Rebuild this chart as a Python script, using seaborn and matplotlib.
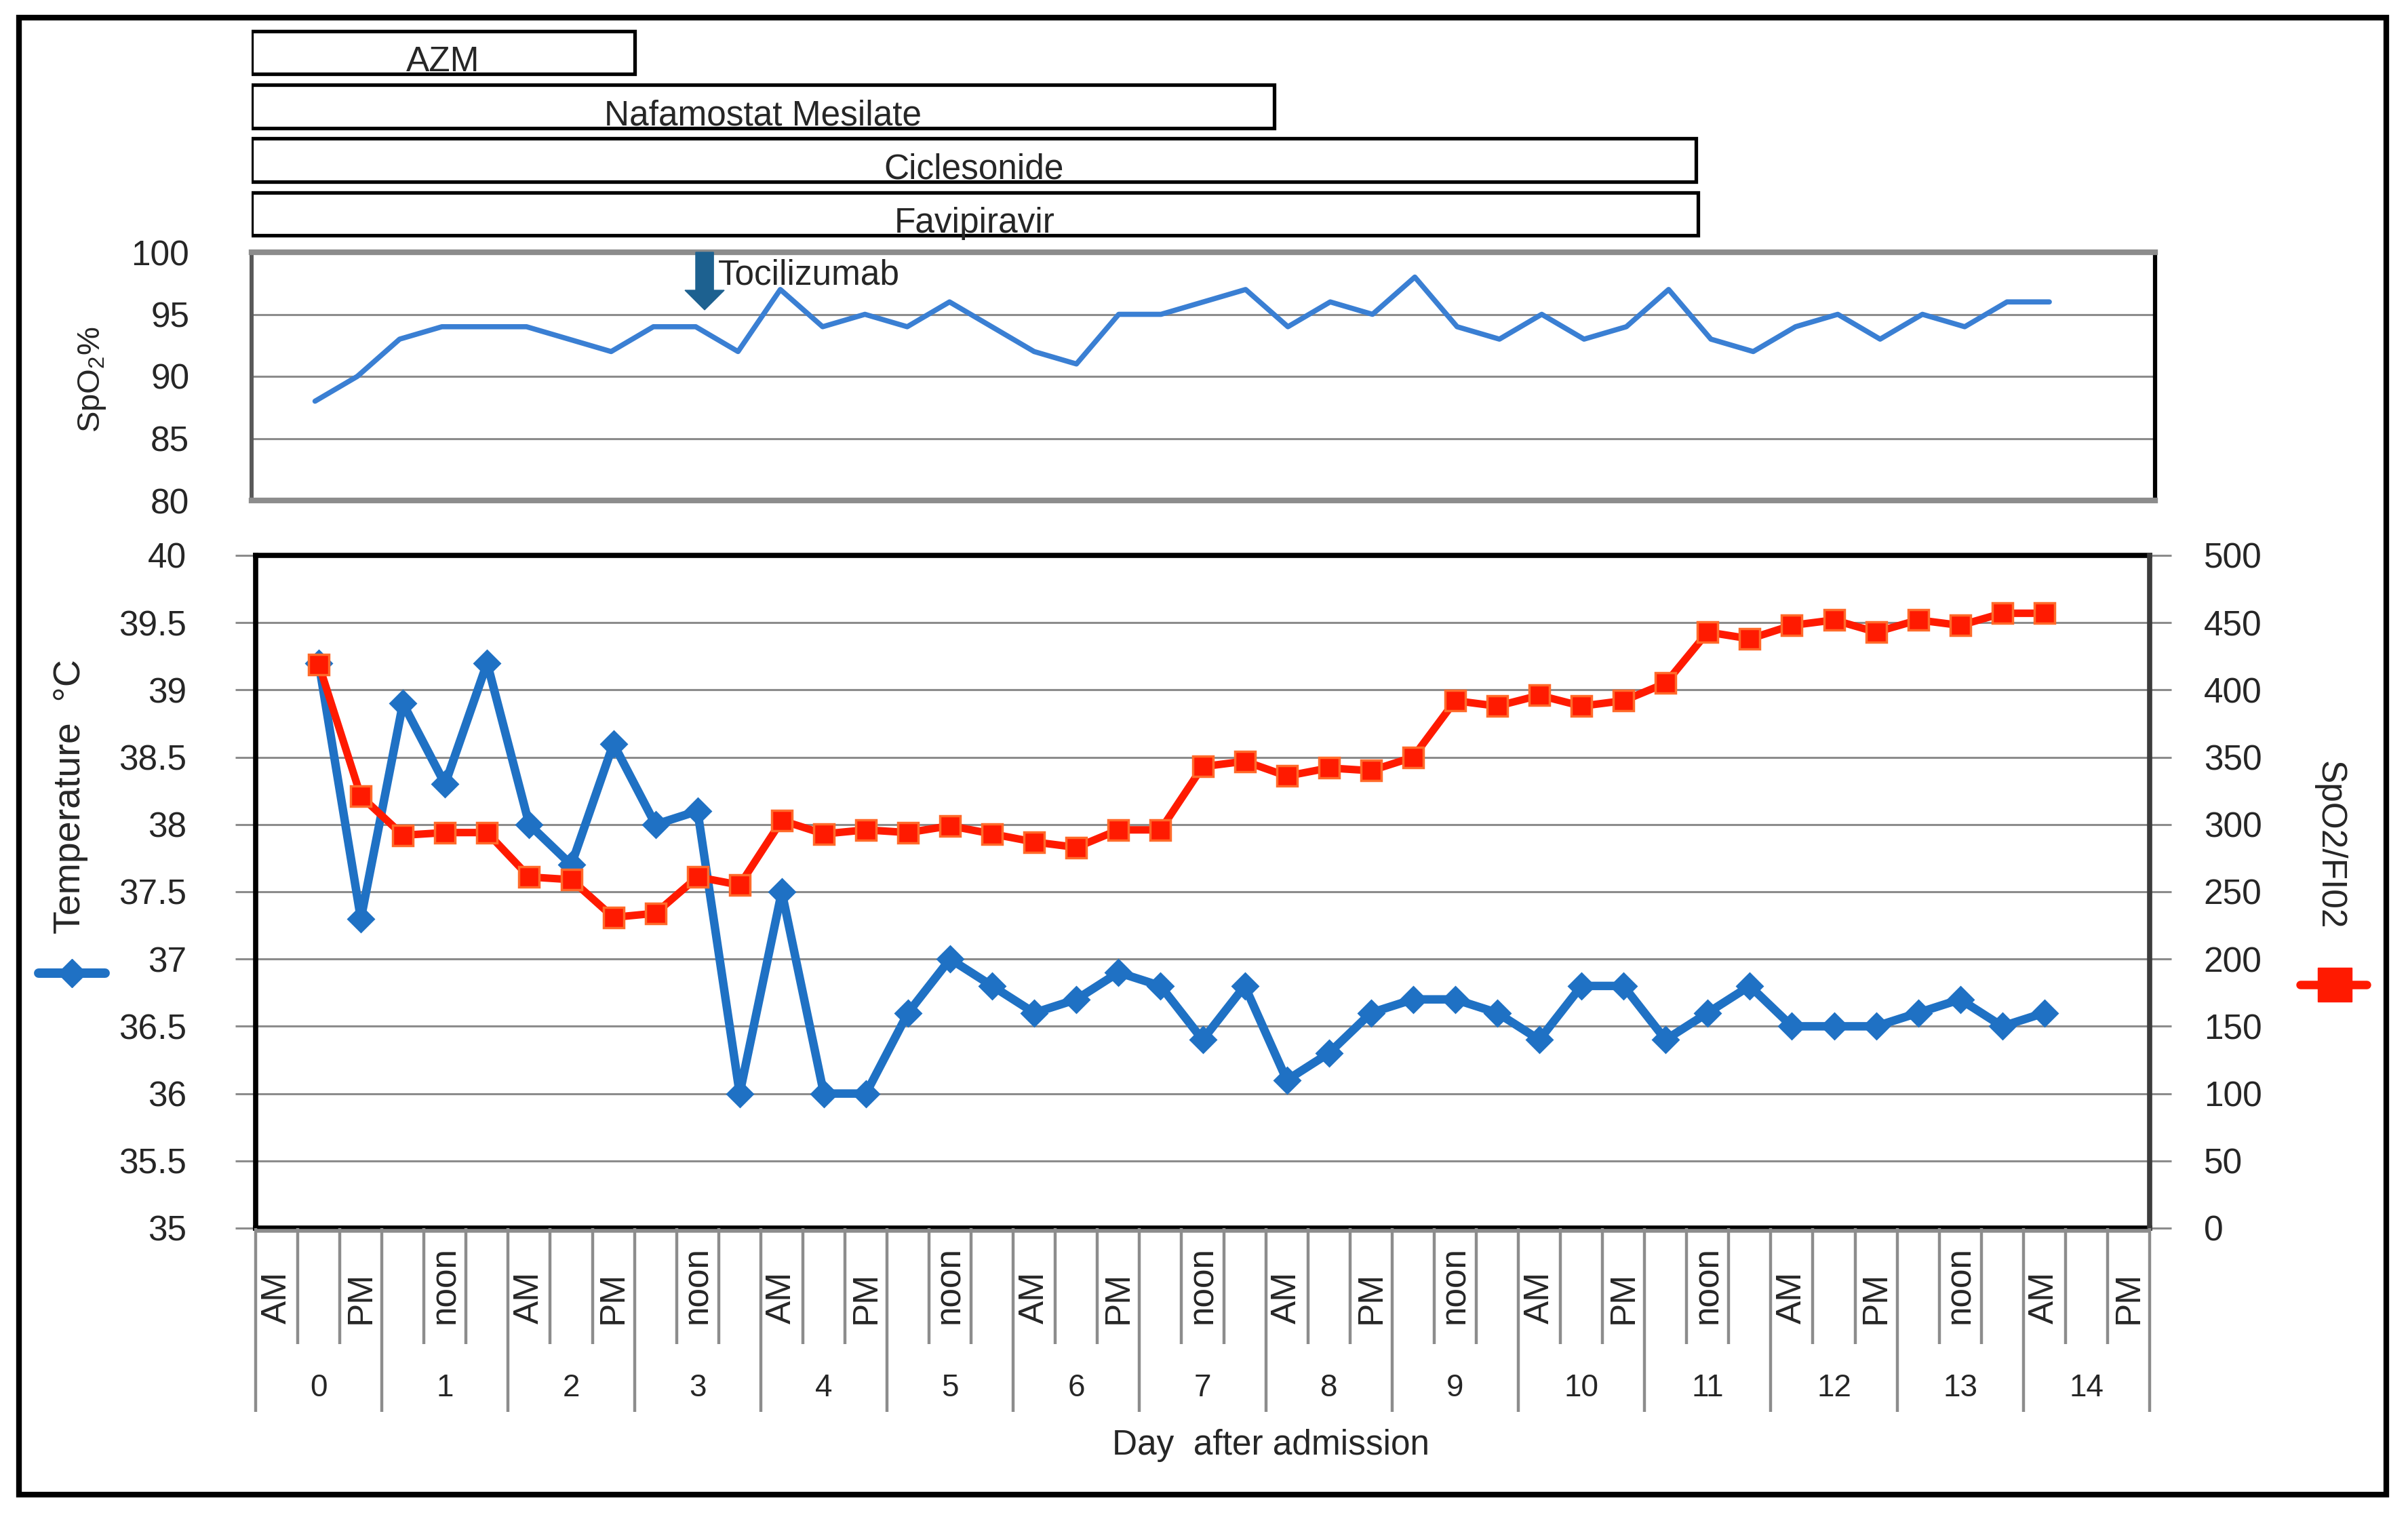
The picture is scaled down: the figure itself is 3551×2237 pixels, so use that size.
import numpy as np
import matplotlib
matplotlib.use("Agg")
import matplotlib.pyplot as plt
import seaborn as sns
from matplotlib.patches import Rectangle, FancyArrow
from matplotlib.lines import Line2D

# values, one per time slot, starting at day 0 noon
temperature = [39.2, 37.3, 38.9, 38.3, 39.2, 38.0, 37.7, 38.6, 38.0, 38.1,
               36.0, 37.5, 36.0, 36.0, 36.6, 37.0, 36.8, 36.6, 36.7, 36.9,
               36.8, 36.4, 36.8, 36.1, 36.3, 36.6, 36.7, 36.7, 36.6, 36.4,
               36.8, 36.8, 36.4, 36.6, 36.8, 36.5, 36.5, 36.5, 36.6, 36.7,
               36.5, 36.6]
spo2_fio2 = [419, 321, 292, 294, 294, 261, 259, 231, 234, 261,
             255, 303, 293, 296, 294, 299, 293, 287, 283, 296,
             296, 343, 347, 336, 342, 340, 350, 392, 388, 396,
             388, 392, 405, 443, 438, 448, 452, 443, 452, 448,
             457, 457]
spo2 = [88, 90, 93, 94, 94, 94, 93, 92, 94, 94,
        92, 97, 94, 95, 94, 96, 94, 92, 91, 95,
        95, 96, 97, 94, 96, 95, 98, 94, 93, 95,
        93, 94, 97, 93, 92, 94, 95, 93, 95, 94,
        96, 96]

days = list(range(15))
times = ["AM", "noon", "PM"]
first_slot = 1

drugs = ["AZM", "Nafamostat Mesilate", "Ciclesonide", "Favipiravir"]
drug_days = [3.02, 8.06, 11.38, 11.40]   # length of each course, in days
tocilizumab_day = 3.57

temp_ticks = np.arange(35, 40.01, 0.5)
ratio_ticks = np.arange(0, 501, 50)
spo2_ticks = np.arange(80, 101, 5)

# colours
BLUE = "#1f71c4"
BLUE_S = "#3a7fd3"
RED = "#ff1a00"
RED_EDGE = "#ff6a2a"
GRID = "#8c8c8c"
ARROW = "#1d6190"
FS = 37

sns.set_style("white")
plt.rcParams["font.family"] = ["Liberation Sans", "DejaVu Sans"]
plt.rcParams["mathtext.fontset"] = "custom"
plt.rcParams["mathtext.rm"] = "Liberation Sans"
plt.rcParams["mathtext.default"] = "regular"

W, H = 3551, 2237


def box(l, t, r, b):
    return [l / W, 1 - b / H, (r - l) / W, (b - t) / H]


slots = list(range(first_slot, first_slot + len(temperature)))
n_slots = len(days) * len(times)
slot_labels = [t for d in days for t in times]

fig = plt.figure(figsize=(W / 100, H / 100), dpi=100)

# drug courses
ax_d = fig.add_axes(box(371, 38, 3178, 355))
ax_d.barh(range(len(drugs)), [3 * d for d in drug_days], left=-0.5, height=0.8,
          color="white", edgecolor="black", linewidth=3.8)
for i, (name, d) in enumerate(zip(drugs, drug_days)):
    ax_d.text(-0.5 + 1.5 * d, i + 0.35, name, ha="center", va="baseline", fontsize=FS)
ax_d.set_xlim(-0.5, n_slots - 0.5)
ax_d.set_ylim(len(drugs) - 0.5, -0.5)
ax_d.axis("off")

# SpO2 panel
ax_s = fig.add_axes(box(371, 372, 3178, 738))
sns.lineplot(x=slots, y=spo2, ax=ax_s, color=BLUE_S, linewidth=5.5)
ax_s.set_xlim(-0.5, n_slots - 0.5)
ax_s.set_ylim(80, 100)
ax_s.set_yticks(spo2_ticks)
ax_s.set_xticks([])
ax_s.set_xlabel("")
ax_s.set_ylabel("")
ax_s.yaxis.grid(True, color=GRID, linewidth=2.2)
ax_s.tick_params(axis="y", length=17, width=2.2, color=GRID, pad=49, labelsize=FS)
for tk, v in zip(ax_s.yaxis.get_major_ticks(), spo2_ticks):
    if v in (80, 100):
        tk.tick1line.set_markeredgewidth(6)
for s in ["top", "bottom"]:
    ax_s.spines[s].set_color(GRID)
    ax_s.spines[s].set_linewidth(6)
ax_s.spines["left"].set_color("#595959")
ax_s.spines["left"].set_linewidth(4.3)
ax_s.spines["right"].set_color("black")
ax_s.spines["right"].set_linewidth(4.5)

xa = 3 * tocilizumab_day - 0.5
ax_s.add_patch(FancyArrow(xa, 100, 0, -4.64, width=0.42, head_width=0.93, head_length=1.58,
                          length_includes_head=True, color=ARROW, clip_on=False, zorder=5))
ax_s.text(xa + 0.32, 97.43, "Tocilizumab", ha="left", va="baseline", fontsize=FS)

# temperature and SpO2/FiO2 panel
ax_t = fig.add_axes(box(377, 819, 3170, 1811))
sns.lineplot(x=slots, y=temperature, ax=ax_t, color=BLUE, linewidth=9, marker="D",
             markersize=19, markeredgecolor=BLUE, markeredgewidth=2)
ax_t.set_xlim(-0.5, n_slots - 0.5)
ax_t.set_ylim(35, 40)
ax_t.set_yticks(temp_ticks)
ax_t.set_yticklabels([f"{v:g}" for v in temp_ticks])
ax_t.set_xticks([])
ax_t.set_xlabel("")
ax_t.set_ylabel("")
ax_t.set_axisbelow(True)
ax_t.yaxis.grid(True, color=GRID, linewidth=2.2)
ax_t.tick_params(axis="y", length=21.6, width=2.2, color=GRID, pad=52, labelsize=FS)

ax_f = ax_t.twinx()
sns.lineplot(x=slots, y=spo2_fio2, ax=ax_f, color=RED, linewidth=8, marker="s",
             markersize=22, markeredgecolor=RED_EDGE, markeredgewidth=2.5)
ax_f.set_xlim(-0.5, n_slots - 0.5)
ax_f.set_ylim(0, 500)
ax_f.set_yticks(ratio_ticks)
ax_f.set_xticks([])
ax_f.set_xlabel("")
ax_f.set_ylabel("")
ax_f.grid(False)
ax_f.tick_params(axis="y", length=23, width=2.2, color=GRID, pad=34.5, labelsize=FS)

for s in ["top", "left", "bottom"]:
    ax_t.spines[s].set_color("black")
    ax_t.spines[s].set_linewidth(5.5)
    ax_f.spines[s].set_visible(False)
ax_t.spines["right"].set_visible(False)
ax_f.spines["right"].set_color("#3c3c3c")
ax_f.spines["right"].set_linewidth(5.5)

# two-level category axis
ax_c = fig.add_axes(box(377, 1811, 3170, 2082))
ax_c.set_xlim(-0.5, n_slots - 0.5)
ax_c.set_ylim(0, 1)
ax_c.axis("off")
bounds = np.arange(n_slots + 1) - 0.5
ax_c.vlines(bounds[::3], 0, 1, color=GRID, linewidth=3.2, clip_on=False)
ax_c.vlines([b for i, b in enumerate(bounds) if i % 3], 0.369, 1, color=GRID,
            linewidth=3.2, clip_on=False)
ax_c.hlines(0.985, -0.5, n_slots - 0.5, color=GRID, linewidth=4, clip_on=False)
for i, lab in enumerate(slot_labels):
    if i % 2 == 0:
        ax_c.text(i, 0.48, lab, rotation=90, ha="center", va="bottom", fontsize=FS)
for d in days:
    ax_c.text(3 * d + 1, 0.129, str(d), ha="center", va="center", fontsize=33)

fig.text(1874 / W, 1 - 2131 / H, "Day  after admission", ha="center", va="center", fontsize=FS)

# axis titles with their legend glyphs
fig.text(136 / W, 1 - 560 / H, "SpO$_2$%", rotation=90, ha="center", va="center", fontsize=34)
fig.text(104 / W, 1 - 1175 / H, "Temperature  °C", rotation=90, ha="center", va="center", fontsize=40)
fig.text(3435 / W, 1 - 1246 / H, "SpO2/FI02", rotation=270, ha="center", va="center", fontsize=FS)

yb = 1 - 1435 / H
fig.add_artist(Line2D([57 / W, 155 / W], [yb, yb], transform=fig.transFigure, color=BLUE, linewidth=10))
fig.add_artist(Line2D([106 / W], [yb], transform=fig.transFigure, color=BLUE, marker="D",
                      markersize=21, linestyle="none"))
yr = 1 - 1452 / H
fig.add_artist(Line2D([3392 / W, 3490 / W], [yr, yr], transform=fig.transFigure, color=RED, linewidth=9))
fig.add_artist(Line2D([3443 / W], [yr], transform=fig.transFigure, color=RED, marker="s",
                      markersize=36, linestyle="none"))

# outer frame
fig.add_artist(Rectangle((28 / W, 1 - 2204 / H), (3519 - 28) / W, (2204 - 26) / H,
                         transform=fig.transFigure, fill=False, linewidth=6, edgecolor="black"))

fig.savefig("out.png", dpi=100)
